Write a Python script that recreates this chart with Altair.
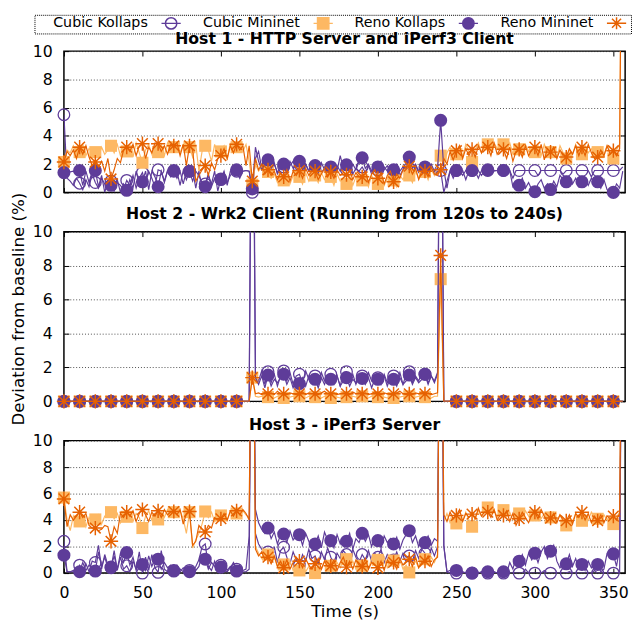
import altair as alt
import pandas as pd

FONT = "DejaVu Sans"
PURPLE = "#5e3c99"
LIGHT = "#fdb863"
DARK = "#e66101"

SERIES = ["Cubic Kollaps", "Cubic Mininet", "Reno Kollaps", "Reno Mininet"]
TITLES = ["Host 1 - HTTP Server and iPerf3 Client",
          "Host 2 - Wrk2 Client (Running from 120s to 240s)",
          "Host 3 - iPerf3 Server"]
X_TICKS = [0, 50, 100, 150, 200, 250, 300, 350]
Y_TICKS = [0, 2, 4, 6, 8, 10]
T = list(range(0, 357, 2))  # seconds, one value every 2 s

# ---------------- Host 1 ----------------
H1_CUBIC_KOLLAPS = [
    5.5, 1.0, 0.8, 0.5, 1.0, 0.65, 0.2, 0.9, 0.4, 1.3, 0.7, 0.3, 1.0, 0.6, 0.2,
    0.8, 0.1, 0.7, 0.5, 0.2, 0.85, 0.5, 1.2, 0.3, 1.0, 1.4, 0.6, 1.5, 1.0, 0.4,
    1.6, 1.5, 0.7, 1.5, 1.1, 1.5, 1.0, 1.5, 0.6, 1.5, 1.5, 0.8, 1.5, 1.2, 0.7,
    0.6, 1.3, 0.4, 1.0, 0.6, 0.9, 1.4, 0.7, 1.2, 1.5, 1.5, 1.0, 1.5, 1.55, 1.5,
    0.0, 2.4, 2.9, 1.7, 1.8, 1.9, 1.5, 2.1, 1.3, 1.7, 1.8, 1.4, 1.9, 2.2, 1.6,
    1.7, 1.3, 2.0, 1.5, 1.8, 1.6, 2.0, 1.4, 1.7, 1.3, 1.7, 1.4, 1.9, 1.5, 1.8,
    1.6, 2.0, 1.3, 1.7, 1.5, 1.8, 1.4, 1.9, 1.3, 1.6, 1.6, 1.3, 1.8, 1.5, 1.2,
    1.5, 1.8, 1.2, 1.6, 1.4, 1.7, 1.3, 1.9, 1.4, 1.6, 1.6, 1.2, 1.7, 1.3, 1.5,
    1.55, 0.0, 0.8, 1.55, 1.0, 1.55, 1.55, 1.2, 1.55, 1.55, 1.55, 1.55, 1.55, 1.2, 1.55,
    1.55, 1.55, 1.55, 1.55, 1.55, 1.55, 1.55, 1.55, 1.0, 1.55, 1.55, 1.55, 1.55, 1.55, 1.55,
    1.55, 1.2, 1.55, 1.55, 1.55, 1.55, 1.55, 1.55, 1.55, 1.3, 1.55, 1.55, 1.55, 1.55, 1.55,
    1.55, 1.55, 1.55, 1.1, 1.55, 1.55, 1.55, 1.55, 1.55, 1.55, 1.55, 1.55, 1.55, 1.8]
H1_CUBIC_MININET = [
    2.15, 3.0, 2.8, 3.3, 2.7, 2.85, 3.4, 2.6, 3.1, 2.9, 2.85, 2.5, 3.2, 2.7, 3.0,
    3.3, 2.8, 3.4, 2.6, 3.2, 2.9, 3.3, 2.5, 3.5, 2.8, 2.1, 3.0, 3.4, 2.7, 3.3,
    2.85, 3.4, 2.6, 3.5, 3.0, 3.2, 3.5, 2.8, 3.4, 3.1, 3.2, 2.5, 3.4, 1.5, 2.9,
    3.3, 3.0, 2.2, 3.4, 2.6, 2.9, 3.3, 2.3, 3.5, 2.8, 3.2, 3.5, 2.9, 3.4, 2.2,
    0.55, 2.0, 1.5, 1.8, 1.1, 1.45, 1.0, 1.3, 0.7, 1.2, 0.85, 1.3, 0.6, 1.2, 0.9,
    1.1, 0.6, 1.4, 0.8, 1.3, 1.2, 0.7, 1.4, 0.9, 1.2, 1.1, 0.5, 1.3, 0.8, 1.0,
    0.6, 1.2, 0.5, 1.1, 0.8, 0.85, 1.3, 0.4, 1.2, 0.7, 0.6, 1.1, 0.5, 1.0, 1.3,
    0.85, 0.4, 1.2, 0.9, 1.4, 1.2, 0.7, 1.5, 1.0, 1.3, 1.45, 0.9, 1.6, 1.2, 2.0,
    2.6, 1.9, 2.8, 3.2, 2.5, 2.7, 3.3, 2.5, 3.4, 2.9, 2.15, 3.0, 3.5, 2.8, 3.3,
    3.4, 2.9, 3.5, 3.1, 3.3, 3.4, 3.0, 3.5, 2.7, 3.2, 3.05, 2.7, 3.4, 2.9, 3.2,
    2.85, 3.3, 2.6, 3.4, 2.9, 2.85, 3.2, 2.5, 3.3, 2.8, 2.4, 3.0, 2.7, 3.4, 2.9,
    2.7, 3.3, 2.8, 3.1, 2.6, 2.85, 3.2, 2.6, 3.3, 2.9, 2.4, 3.0, 3.4, 30.0]
H1_RENO_KOLLAPS = [
    1.4, 1.5, 1.45, 1.5, 1.3, 1.55, 0.5, 1.5, 0.7, 1.5, 1.55, 0.4, 1.2, 0.0, 0.8,
    0.5, 0.2, 0.9, 0.0, 0.6, 0.15, 0.9, 0.3, 1.5, 0.6, 0.75, 1.5, 0.2, 1.5, 1.1,
    0.4, 1.5, 0.8, 1.55, 1.5, 1.55, 1.5, 0.5, 1.55, 0.9, 1.5, 1.55, 0.3, 1.5, 0.2,
    0.4, 1.2, 0.6, 1.5, 0.1, 0.95, 1.5, 0.5, 1.5, 1.55, 1.6, 1.55, 1.5, 1.55, 1.5,
    0.25, 3.2, 2.2, 1.6, 2.0, 2.3, 1.7, 2.0, 1.4, 1.9, 2.0, 1.5, 2.2, 1.7, 1.9,
    2.2, 1.6, 2.0, 1.5, 1.8, 1.9, 1.4, 2.1, 1.6, 2.0, 1.8, 2.1, 1.5, 2.6, 1.7,
    1.95, 1.5, 2.0, 1.6, 2.2, 2.45, 1.7, 2.0, 1.5, 1.9, 1.8, 2.2, 1.6, 1.9, 1.4,
    1.6, 2.0, 1.5, 1.8, 1.7, 2.5, 1.7, 2.0, 1.5, 1.9, 1.8, 1.6, 2.0, 1.5, 1.7,
    5.1, 1.6, 0.3, 1.5, 1.55, 1.55, 1.5, 1.55, 0.9, 1.55, 1.55, 1.5, 1.0, 1.55, 1.55,
    1.6, 1.55, 1.5, 1.55, 1.5, 1.55, 1.5, 1.55, 0.4, 0.6, 0.5, 1.0, 0.3, 0.7, 0.2,
    0.05, 0.6, 0.9, 0.3, 0.6, 0.2, 0.8, 0.4, 1.2, 0.9, 0.75, 1.1, 0.6, 1.0, 0.4,
    0.75, 0.9, 0.5, 1.0, 0.7, 0.75, 0.3, 0.9, 0.2, 0.0, 0.0, 0.6, 0.3, 1.5]
H1_RENO_MININET = [
    2.15, 2.9, 2.6, 3.0, 2.4, 3.2, 2.7, 3.3, 2.5, 1.9, 2.15, 1.8, 2.2, 1.5, 2.4,
    0.95, 1.6, 2.4, 2.1, 3.0, 3.2, 2.9, 3.4, 2.6, 3.3, 3.45, 2.4, 3.2, 2.8, 3.5,
    3.45, 2.9, 3.3, 2.7, 3.4, 3.3, 3.5, 2.6, 3.4, 1.9, 3.3, 3.0, 0.8, 1.2, 1.6,
    1.9, 1.2, 2.1, 1.6, 2.4, 2.6, 3.1, 2.4, 3.3, 2.8, 3.4, 3.0, 3.3, 1.9, 3.3,
    0.8, 2.4, 1.6, 2.0, 1.3, 1.6, 1.2, 1.5, 0.9, 1.4, 1.1, 1.6, 0.8, 1.5, 1.2,
    1.55, 1.0, 1.7, 1.2, 1.5, 1.5, 0.9, 1.3, 1.7, 1.1, 1.45, 1.0, 1.6, 1.2, 1.4,
    1.25, 1.6, 0.9, 1.4, 1.1, 1.1, 1.5, 0.7, 1.3, 1.6, 1.0, 1.4, 0.6, 1.2, 1.5,
    0.75, 1.3, 1.0, 1.6, 1.8, 1.85, 1.3, 1.7, 0.9, 1.5, 1.5, 1.1, 1.8, 1.3, 1.2,
    1.6, 2.4, 2.0, 2.9, 2.3, 2.95, 3.3, 2.4, 3.1, 2.6, 3.05, 2.5, 3.3, 2.8, 3.4,
    3.2, 2.6, 3.5, 2.7, 3.1, 3.05, 2.4, 3.2, 2.2, 2.9, 3.05, 2.5, 3.3, 2.6, 3.0,
    3.2, 2.6, 3.4, 2.3, 3.1, 2.85, 3.2, 2.4, 3.0, 2.6, 2.5, 3.1, 2.7, 3.3, 2.6,
    3.2, 2.6, 3.4, 2.8, 2.4, 2.5, 3.0, 2.6, 3.3, 2.7, 2.95, 2.6, 3.1, 30.0]

# ---------------- Host 2 (values only move between 120 s and 240 s) ----------------
H2_CUBIC_KOLLAPS = [0.0] * 60 + [
    30.0, 1.6, 1.2, 1.8, 1.0, 1.75, 1.1, 1.6, 0.9, 1.5, 1.8, 1.2, 1.7, 1.0, 1.5,
    1.6, 1.1, 1.8, 1.3, 1.6, 1.5, 1.0, 1.7, 1.2, 1.4, 1.6, 1.1, 1.5, 0.9, 1.7,
    1.75, 1.2, 1.6, 1.0, 1.5, 1.5, 1.1, 1.7, 1.2, 1.4, 1.4, 1.0, 1.6, 1.1, 1.5,
    1.5, 1.2, 1.7, 1.0, 1.6, 1.75, 1.1, 1.5, 1.2, 1.7, 1.6, 1.0, 1.5, 1.1, 1.6,
    30.0] + [0.0] * 58
H2_CUBIC_MININET = [0.0] * 60 + [
    1.4, 0.3, 0.25, 0.3, 0.2, 0.25, 0.3, 0.2, 0.3, 0.25, 0.2, 0.3, 0.25, 0.3, 0.2,
    0.3, 0.25, 0.2, 0.3, 0.25, 0.25, 0.3, 0.2, 0.3, 0.25, 0.2, 0.3, 0.25, 0.2, 0.3,
    0.25, 0.2, 0.3, 0.25, 0.3, 0.3, 0.25, 0.2, 0.3, 0.2, 0.25, 0.3, 0.25, 0.2, 0.3,
    0.2, 0.3, 0.25, 0.3, 0.25, 0.3, 0.2, 0.25, 0.3, 0.2, 0.25, 0.3, 0.2, 0.3, 0.3,
    7.2] + [0.0] * 58
H2_RENO_KOLLAPS = [0.0] * 60 + [
    25.0, 1.4, 1.0, 1.5, 0.8, 1.55, 0.9, 1.3, 1.1, 1.4, 1.6, 1.0, 1.4, 0.8, 1.2,
    1.05, 1.4, 0.9, 1.5, 1.1, 1.3, 0.8, 1.4, 1.0, 1.5, 1.3, 1.0, 1.5, 0.9, 1.2,
    1.4, 0.9, 1.3, 1.1, 1.5, 1.35, 1.0, 1.4, 0.8, 1.3, 1.3, 1.1, 1.5, 0.9, 1.4,
    1.3, 0.9, 1.4, 1.0, 1.2, 1.55, 1.0, 1.4, 1.1, 1.3, 1.6, 1.1, 1.5, 1.2, 1.7,
    25.0] + [0.0] * 58
H2_RENO_MININET = [0.0] * 60 + [
    1.4, 0.45, 0.5, 0.4, 0.55, 0.45, 0.5, 0.4, 0.6, 0.45, 0.45, 0.4, 0.5, 0.45, 0.4,
    0.45, 0.55, 0.4, 0.5, 0.45, 0.45, 0.4, 0.5, 0.6, 0.45, 0.45, 0.5, 0.4, 0.45, 0.5,
    0.45, 0.4, 0.55, 0.45, 0.5, 0.45, 0.5, 0.4, 0.45, 0.55, 0.45, 0.4, 0.5, 0.45, 0.4,
    0.45, 0.5, 0.6, 0.45, 0.4, 0.45, 0.4, 0.5, 0.45, 0.55, 0.45, 0.5, 0.4, 0.45, 0.5,
    8.6] + [0.0] * 58

# ---------------- Host 3 ----------------
H3_CUBIC_KOLLAPS = [
    2.4, 0.1, 0.1, 0.1, 0.1, 0.6, 0.2, 0.7, 0.1, 0.9, 0.8, 2.1, 0.3, 1.4, 0.6,
    0.4, 1.7, 0.2, 1.2, 0.3, 0.55, 0.1, 0.9, 0.3, 1.6, 0.0, 1.2, 0.2, 1.4, 0.4,
    0.05, 1.7, 0.3, 0.1, 0.5, 0.2, 0.1, 0.3, 0.1, 0.2, 0.2, 0.1, 0.5, 1.0, 2.0,
    2.2, 0.5, 0.2, 0.9, 0.1, 0.6, 0.2, 0.1, 0.4, 0.8, 0.3, 0.1, 0.1, 0.1, 0.3,
    30.0, 3.0, 2.2, 1.8, 1.5, 1.6, 1.0, 2.0, 0.8, 1.7, 1.95, 1.2, 0.7, 1.6, 1.0,
    0.6, 1.4, 0.9, 1.8, 1.1, 1.3, 0.7, 1.6, 1.0, 1.9, 1.2, 0.8, 1.5, 1.1, 1.7,
    1.4, 0.9, 1.8, 1.2, 0.8, 1.4, 1.0, 1.7, 0.9, 1.5, 1.2, 1.8, 0.8, 1.4, 1.1,
    1.0, 1.6, 0.9, 1.5, 1.2, 1.3, 0.9, 1.7, 1.1, 1.8, 1.5, 1.0, 1.9, 1.3, 2.0,
    30.0, 2.1, 0.1, 0.0, 0.0, 0.0, 0.0, 0.0, 0.0, 0.0, 0.0, 0.0, 0.0, 0.0, 0.0,
    0.0, 0.0, 0.0, 0.0, 0.0, 0.0, 0.0, 0.0, 0.0, 0.0, 0.0, 0.0, 0.3, 0.0, 0.0,
    0.0, 0.0, 0.0, 0.2, 0.0, 0.0, 0.0, 0.0, 0.0, 0.0, 0.0, 0.1, 0.0, 0.0, 0.0,
    0.0, 0.0, 0.0, 0.0, 0.2, 0.0, 0.0, 0.0, 0.0, 0.0, 0.0, 0.0, 0.1, 30.0]
H3_CUBIC_MININET = [
    5.7, 4.0, 3.2, 4.3, 3.6, 3.9, 4.4, 3.5, 4.2, 3.8, 4.05, 4.4, 3.7, 4.3, 4.5,
    4.6, 4.1, 4.5, 3.8, 4.4, 4.25, 4.6, 3.9, 4.5, 4.2, 3.4, 4.3, 4.7, 4.0, 4.5,
    4.05, 4.6, 4.2, 4.8, 4.4, 4.6, 4.3, 4.7, 4.1, 3.0, 4.6, 1.9, 2.5, 3.0, 3.7,
    4.65, 4.2, 4.6, 3.9, 4.4, 4.35, 4.7, 4.0, 4.6, 4.3, 4.5, 4.2, 4.7, 4.4, 4.2,
    30.0, 2.0, 1.5, 1.1, 1.6, 1.4, 0.8, 1.2, 0.5, 0.9, 0.65, 0.3, 0.9, 0.2, 0.6,
    0.2, 0.7, 0.1, 0.5, 0.3, 0.0, 0.6, 0.3, 0.9, 0.4, 0.55, 0.2, 0.8, 0.4, 1.0,
    1.05, 0.5, 0.9, 0.3, 0.7, 0.55, 0.9, 0.3, 1.1, 0.6, 1.0, 0.6, 1.2, 0.4, 0.8,
    0.95, 0.5, 1.0, 0.3, 0.6, 0.05, 0.6, 0.9, 0.4, 1.1, 1.05, 0.6, 1.2, 0.8, 1.4,
    30.0, 3.9, 4.5, 3.8, 4.2, 3.75, 4.3, 3.9, 4.6, 4.0, 3.5, 4.2, 4.7, 4.3, 4.9,
    4.95, 4.5, 4.8, 4.2, 4.6, 4.75, 4.3, 4.6, 4.0, 4.5, 4.5, 4.1, 4.7, 4.3, 4.0,
    4.35, 4.7, 4.1, 4.5, 3.9, 4.2, 4.6, 4.0, 4.4, 3.8, 3.6, 4.2, 3.9, 4.5, 4.1,
    3.95, 4.4, 4.0, 4.6, 4.2, 4.1, 3.8, 4.4, 4.0, 4.3, 3.7, 4.2, 4.6, 30.0]
H3_RENO_KOLLAPS = [
    1.35, 0.1, 0.1, 0.2, 0.1, 0.1, 0.8, 0.2, 0.6, 0.3, 0.15, 1.6, 0.5, 1.2, 0.4,
    0.45, 1.3, 0.3, 1.5, 0.8, 1.55, 0.6, 1.2, 0.2, 0.9, 0.65, 0.2, 1.3, 0.5, 1.1,
    1.05, 0.3, 0.8, 0.4, 0.6, 0.15, 0.6, 0.1, 0.4, 0.2, 0.1, 0.3, 0.2, 0.5, 1.4,
    1.05, 0.3, 0.8, 0.5, 0.2, 0.45, 0.9, 0.2, 0.5, 0.3, 0.15, 0.6, 0.2, 0.3, 2.8,
    30.0, 4.8, 3.8, 3.3, 3.0, 3.4, 2.6, 3.1, 2.2, 2.9, 2.95, 2.3, 3.2, 2.5, 2.8,
    2.9, 2.1, 3.0, 2.4, 1.8, 2.2, 2.8, 1.9, 3.1, 2.5, 2.45, 1.9, 2.9, 2.2, 2.7,
    2.4, 3.0, 1.8, 2.6, 2.3, 3.0, 2.4, 2.9, 2.0, 2.7, 2.45, 1.9, 2.8, 2.3, 2.6,
    2.2, 2.7, 1.8, 2.5, 2.9, 3.2, 2.3, 2.8, 2.0, 2.6, 2.3, 2.8, 2.1, 2.6, 2.4,
    30.0, 2.0, 0.1, 0.2, 0.1, 0.2, 0.0, 0.1, 0.0, 0.1, 0.0, 0.1, 0.0, 0.1, 0.0,
    0.1, 0.0, 0.1, 0.0, 0.1, 0.1, 0.0, 0.8, 0.3, 1.2, 0.9, 1.4, 0.6, 1.5, 1.0,
    1.5, 0.8, 1.6, 2.0, 1.1, 1.65, 2.1, 0.9, 0.4, 0.7, 0.7, 1.4, 0.5, 1.1, 0.3,
    0.65, 0.2, 0.9, 0.4, 0.7, 0.65, 0.1, 0.3, 1.5, 1.8, 1.45, 0.5, 1.9, 30.0]
H3_RENO_MININET = [
    5.6, 3.5, 4.4, 4.0, 4.3, 4.6, 4.2, 4.5, 3.6, 3.4, 3.4, 3.2, 3.3, 3.6, 3.5,
    2.4, 3.5, 3.0, 4.5, 4.2, 4.6, 4.3, 4.7, 3.9, 4.5, 4.8, 4.4, 3.9, 4.6, 4.3,
    4.7, 4.2, 4.8, 4.4, 4.6, 4.65, 4.4, 4.8, 3.7, 4.5, 4.65, 2.1, 2.4, 3.6, 3.3,
    3.1, 3.6, 3.4, 4.2, 4.0, 4.1, 4.5, 4.0, 4.7, 4.3, 4.7, 4.4, 4.8, 4.5, 4.0,
    30.0, 1.8, 1.3, 1.6, 1.0, 1.2, 0.7, 1.3, 0.5, 0.9, 0.4, 1.0, 0.3, 0.8, 1.2,
    0.9, 0.4, 1.1, 0.6, 0.3, 0.7, 1.1, 0.3, 0.9, 0.5, 0.55, 1.0, 0.2, 0.8, 1.2,
    0.45, 0.9, 0.3, 1.0, 0.6, 0.5, 1.1, 0.3, 0.8, 0.6, 0.4, 0.9, 0.2, 1.0, 0.7,
    0.8, 0.3, 1.1, 0.6, 0.9, 1.05, 0.5, 1.2, 0.4, 0.8, 0.9, 1.3, 0.5, 1.0, 1.2,
    30.0, 4.4, 3.9, 4.6, 4.1, 4.35, 4.8, 3.9, 4.5, 4.2, 4.45, 4.1, 4.9, 4.3, 4.6,
    4.6, 4.2, 4.8, 4.0, 4.4, 4.35, 4.7, 3.9, 4.5, 3.6, 4.1, 4.6, 4.2, 3.8, 4.4,
    4.6, 4.1, 4.8, 4.3, 3.9, 4.15, 4.5, 3.8, 4.4, 4.0, 3.95, 4.4, 3.7, 4.5, 4.2,
    4.6, 4.0, 4.5, 3.8, 4.3, 3.95, 4.4, 3.8, 4.3, 4.1, 4.3, 4.0, 4.5, 30.0]

HOSTS = {
    1: [H1_CUBIC_KOLLAPS, H1_CUBIC_MININET, H1_RENO_KOLLAPS, H1_RENO_MININET],
    2: [H2_CUBIC_KOLLAPS, H2_CUBIC_MININET, H2_RENO_KOLLAPS, H2_RENO_MININET],
    3: [H3_CUBIC_KOLLAPS, H3_CUBIC_MININET, H3_RENO_KOLLAPS, H3_RENO_MININET],
}

rows = []
for host, lists in HOSTS.items():
    for s, vals in zip(SERIES, lists):
        assert len(vals) == len(T), (host, s, len(vals))
        for t, v in zip(T, vals):
            rows.append({"host": host, "series": s, "t": t, "v": v})
df = pd.DataFrame(rows)
legend_df = pd.DataFrame({"series": SERIES})

# ---------------- styles ----------------
AST = "M-1,0L1,0M0,-1L0,1M-0.75,-0.75L0.75,0.75M-0.75,0.75L0.75,-0.75"
LINE_COLORS = [PURPLE, LIGHT, PURPLE, DARK]
POINT_STYLE = [
    dict(shape="circle", color=PURPLE, filled=False, size=140, strokeWidth=1.3),
    dict(shape="square", color=LIGHT, filled=True, size=151, strokeWidth=0),
    dict(shape="circle", color=PURPLE, filled=True, size=177, strokeWidth=0),
    dict(shape=AST, color=DARK, filled=False, size=210, strokeWidth=1.5),
]
# key samples: a short line with the marker on it
LEG_CIRCLE = "M-1.7,0L1.7,0M1.0,0A1.0,1.0,0,1,1,-1.0,0A1.0,1.0,0,1,1,1.0,0"
LEG_SQUARE = "M-1.7,0L1.7,0M-1.0,-1.0L1.0,-1.0L1.0,1.0L-1.0,1.0Z"
LEG_AST = "M-1.7,0L1.7,0M0,-1.05L0,1.05M-0.8,-0.8L0.8,0.8M-0.8,0.8L0.8,-0.8"

# gnuplot style key: the text first, then its sample to the right
LEGEND = alt.Legend(
    orient="none", legendX=-30, legendY=-37, direction="horizontal", columns=4,
    title=".", titleOrient="left", titleOpacity=0, titlePadding=130,
    titleFont=FONT, titleFontSize=1,
    labelFont=FONT, labelFontSize=14.5, labelColor="black",
    labelAlign="right", labelOffset={"expr": "-31"},
    symbolSize=133, symbolStrokeWidth=1.5, symbolOpacity=1,
    columnPadding=18, padding=1,
)

XS = alt.Scale(domain=[0, 357.5], nice=False, zero=False)
YS = alt.Scale(domain=[0, 10], nice=False)
TITLE_DY = {1: 4, 2: 30, 3: 0}


def panel(h, height, bottom_labels, y_title, with_legend):
    sub = df[df.host == h]
    layers = []
    for i, s in enumerate(SERIES):
        d = sub[sub.series == s]
        m = d[(d.t % 10 == 0) & (d.v <= 10)]
        if i == 0:
            xkw = dict(orient="bottom", values=X_TICKS, offset=-5, tickSize=5, domain=False,
                       grid=False, labels=bottom_labels, labelPadding=12, labelFlush=False)
            if bottom_labels:
                xkw.update(title="Time (s)", titlePadding=3)
            else:
                xkw.update(title=None)
            ykw = dict(orient="left", values=Y_TICKS, offset=-5, tickSize=5, domain=False,
                       grid=True, labelPadding=12, labelFlush=False)
            if y_title:
                ykw.update(title=y_title, titlePadding=5, titleY=height / 2 - 8)
            else:
                ykw.update(title=None)
            xa_line, ya_line = alt.Axis(**xkw), alt.Axis(**ykw)
            xa_pt = alt.Axis(orient="top", values=X_TICKS, offset=-5, tickSize=5, domain=False,
                             grid=False, labels=False, title=None)
            ya_pt = alt.Axis(orient="right", values=Y_TICKS, offset=-5, tickSize=5, domain=False,
                             grid=False, labels=False, title=None)
        else:
            xa_line = ya_line = xa_pt = ya_pt = None
        line = alt.Chart(d).mark_line(color=LINE_COLORS[i], strokeWidth=1.2, clip=True).encode(
            x=alt.X("t:Q", scale=XS, axis=xa_line),
            y=alt.Y("v:Q", scale=YS, axis=ya_line),
        )
        pts = alt.Chart(m).mark_point(opacity=1, **POINT_STYLE[i]).encode(
            x=alt.X("t:Q", scale=XS, axis=xa_pt),
            y=alt.Y("v:Q", scale=YS, axis=ya_pt),
        )
        layers += [line, pts]
    if with_legend:
        key = alt.Chart(legend_df).mark_point(opacity=0).encode(
            shape=alt.Shape("series:N", scale=alt.Scale(
                domain=SERIES, range=[LEG_CIRCLE, LEG_SQUARE, LEG_CIRCLE, LEG_AST]), legend=LEGEND),
            fill=alt.Fill("series:N", scale=alt.Scale(
                domain=SERIES, range=["transparent", LIGHT, PURPLE, "transparent"]), legend=LEGEND),
            stroke=alt.Stroke("series:N", scale=alt.Scale(
                domain=SERIES, range=[PURPLE, LIGHT, PURPLE, DARK]), legend=LEGEND),
        )
        layers.append(key)
    title = alt.Title(TITLES[h - 1], offset=0, dy=TITLE_DY[h]) if TITLE_DY[h] else \
        alt.Title(TITLES[h - 1], offset=0)
    return alt.layer(*layers).resolve_axis(x="independent", y="independent").properties(
        width=572, height=height, title=title)


p1 = panel(1, 144, False, None, True)
p2 = panel(2, 173, False, "Deviation from baseline (%)", False)
p3 = panel(3, 135, True, None, False)

chart = alt.vconcat(p1, p2, p3, spacing=40, bounds="flush").properties(
    padding={"left": 0, "top": 0, "right": 0, "bottom": 0}
).configure_view(stroke="black", strokeWidth=1.5).configure_axis(
    labelFont=FONT, labelFontSize=16, labelColor="black",
    titleFont=FONT, titleFontSize=17, titleFontWeight="normal", titleColor="black",
    tickColor="black", tickWidth=1, gridColor="#222222", gridDash=[1, 2], gridWidth=1,
    gridOpacity=0.8,
).configure_title(font=FONT, fontSize=16, fontWeight="bold", color="black",
                  anchor="middle").configure_legend(
    strokeColor="black", strokeDash=[1, 1], strokeWidth=1)

chart.save("out.html", embed_options={"renderer": "svg", "actions": False})
